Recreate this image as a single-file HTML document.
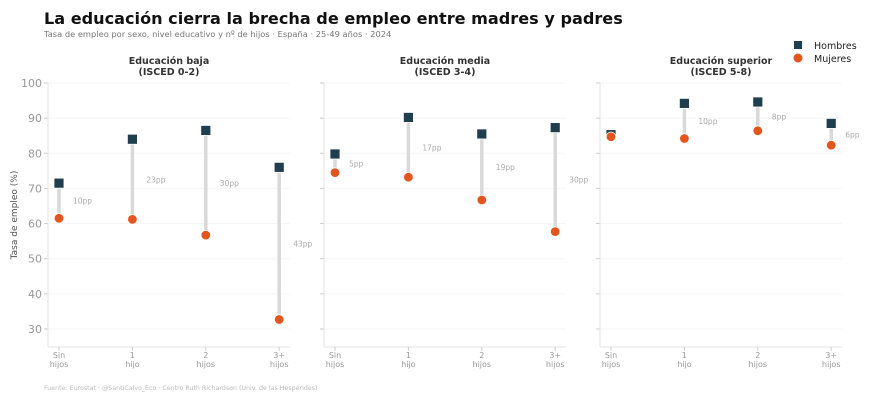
<!DOCTYPE html>
<html><head><meta charset="utf-8"><style>
body{margin:0;background:#fff;font-family:"DejaVu Sans","Liberation Sans",sans-serif;}
svg{display:block}
</style></head><body>
<svg id="c" width="870" height="401" xmlns="http://www.w3.org/2000/svg">
<text x="44" y="24" font-size="16.1" font-weight="bold" fill="#111">La educación cierra la brecha de empleo entre madres y padres</text>
<text x="44" y="37" font-size="8.3" fill="#777">Tasa de empleo por sexo, nivel educativo y nº de hijos · España · 25-49 años · 2024</text>
<text x="44" y="390" font-size="6.3" fill="#bbb">Fuente: Eurostat · @SantiCalvo_Eco · Centro Ruth Richardson (Univ. de las Hespérides)</text>
<text transform="translate(17,215) rotate(-90)" text-anchor="middle" font-size="9" fill="#555">Tasa de empleo (%)</text>
<g>
<rect x="794" y="41" width="8" height="8" fill="#1f3f4f"/>
<text x="814" y="49" font-size="9.5" fill="#222">Hombres</text>
<circle cx="798" cy="58" r="4.5" fill="#e4541d"/>
<text x="814" y="62" font-size="9.5" fill="#222">Mujeres</text>
</g>
</svg>
<script>
const categories=["Sin|hijos","1|hijo","2|hijos","3+|hijos"];
const panelTitles=["Educación baja|(ISCED 0-2)","Educación media|(ISCED 3-4)","Educación superior|(ISCED 5-8)"];
const hombresBaja=[71.5,84,86.5,76];
const mujeresBaja=[61.5,61.2,56.7,32.7];
const hombresMedia=[79.8,90.2,85.5,87.3];
const mujeresMedia=[74.5,73.2,66.7,57.7];
const hombresSup=[85.3,94.2,94.6,88.5];
const mujeresSup=[84.7,84.2,86.4,82.3];
const yTicks=[30,40,50,60,70,80,90,100];
const NS="http://www.w3.org/2000/svg";
const svg=document.getElementById('c');
function mk(t,a,p){const e=document.createElementNS(NS,t);for(const k in a)e.setAttribute(k,a[k]);(p||svg).appendChild(e);return e;}
const y=v=>83+(100-v)*3.514;
const panels=[[hombresBaja,mujeresBaja,48],[hombresMedia,mujeresMedia,324],[hombresSup,mujeresSup,600]];
panels.forEach((p,pi)=>{
 const [H,M,x0]=p; const x1=x0+242; const x=i=>x0+11+i*73.4;
 const g=mk('g',{});
 
 
 const tl=panelTitles[pi].split('|');
 tl.forEach((s,k)=>{const t=mk('text',{x:(x0+x1)/2,y:64+k*11,'text-anchor':'middle','font-size':'9.5','font-weight':'bold',fill:'#333'},g);t.textContent=s;
  
  });
 yTicks.forEach(v=>{
  const l=mk('line',{x1:x0,x2:x1,y1:y(v),y2:y(v),stroke:'#f5f5f5','stroke-width':1},g);
  
  
  mk('line',{x1:x0-4,x2:x0,y1:y(v),y2:y(v),stroke:'#ccc'},g);
  if(pi===0){const t=mk('text',{x:x0-6,y:y(v)+4,'text-anchor':'end','font-size':'11',fill:'#999'},g);t.textContent=v;
   
   }
 });
 mk('line',{x1:x0,x2:x0,y1:y(100),y2:347,stroke:'#e3e3e3'},g);
 mk('line',{x1:x0,x2:x1,y1:347,y2:347,stroke:'#e3e3e3'},g);
 categories.forEach((c,i)=>{
  mk('line',{x1:x(i),x2:x(i),y1:347,y2:351,stroke:'#ccc'},g);
  c.split('|').forEach((s,k)=>{const t=mk('text',{x:x(i),y:358+k*9,'text-anchor':'middle','font-size':'8',fill:'#999'},g);t.textContent=s;
   
   });
  const l=mk('line',{x1:x(i),x2:x(i),y1:y(H[i]),y2:y(M[i]),stroke:'#d9d9d9','stroke-width':3.5},g);
  
  
  const r=mk('rect',{x:x(i)-5,y:y(H[i])-5,width:10,height:10,fill:'#1f3f4f',stroke:'#fff','stroke-width':0.8},g);
  
  
  const ci=mk('circle',{cx:x(i),cy:y(M[i]),r:4.8,fill:'#e4541d',stroke:'#fff','stroke-width':0.8},g);
  
  
  const d=Math.round(H[i]-M[i]);
  if(d>=2){const t=mk('text',{x:x(i)+14,y:(y(H[i])+y(M[i]))/2+3,'font-size':'7.5',fill:'#aaa'},g);t.textContent=d+'pp';
   
   }
 });
});
</script>
</body></html>
